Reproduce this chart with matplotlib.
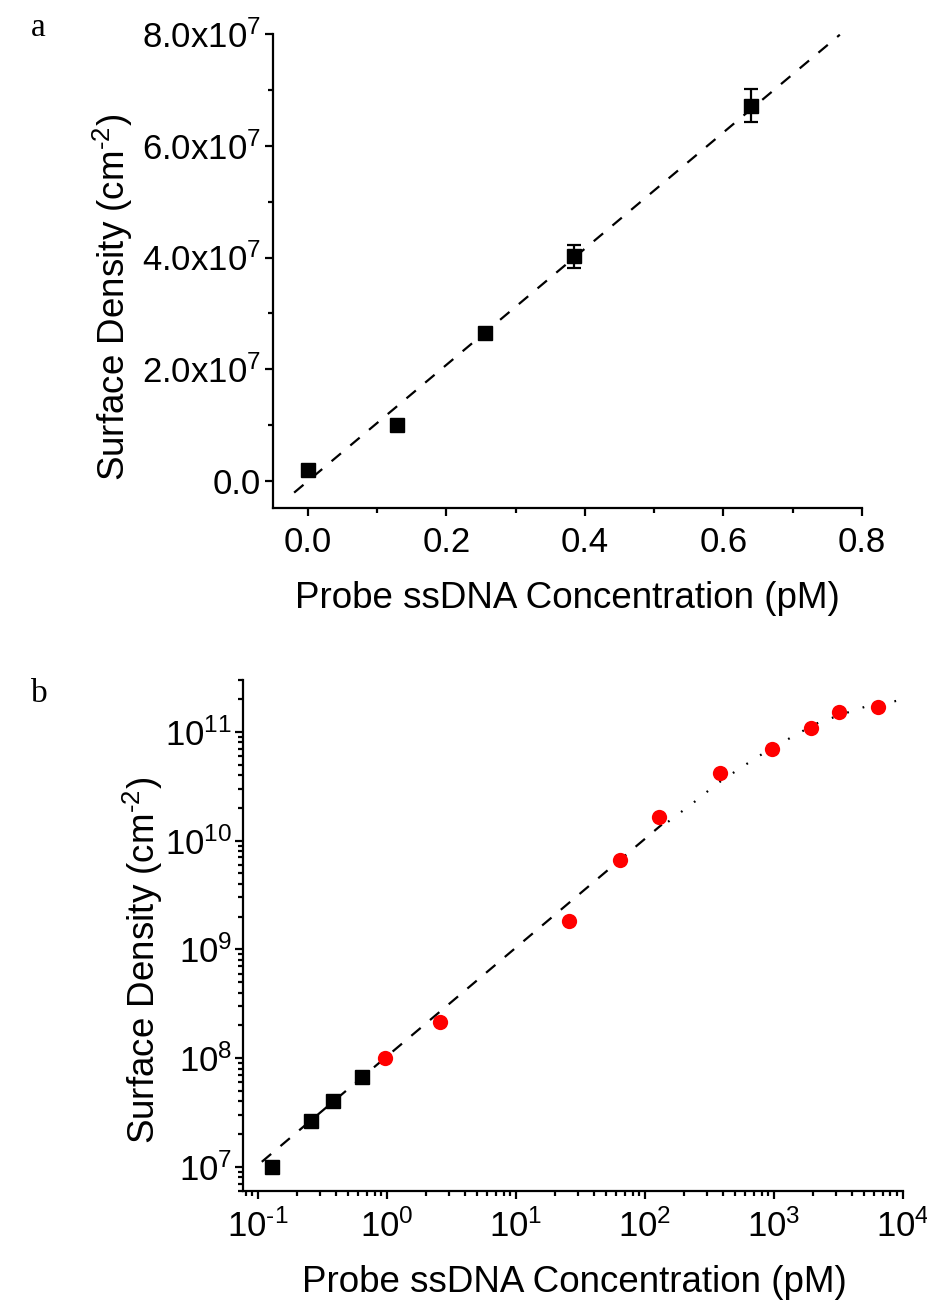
import matplotlib
matplotlib.use('Agg')
import matplotlib.pyplot as plt
import numpy as np
from matplotlib.ticker import FuncFormatter, MultipleLocator, LogLocator, NullFormatter

plt.rcParams['font.family'] = ['Liberation Sans', 'DejaVu Sans']
plt.rcParams['mathtext.fontset'] = 'custom'
plt.rcParams['mathtext.rm'] = 'Liberation Sans'
plt.rcParams['mathtext.it'] = 'Liberation Sans:italic'
plt.rcParams['mathtext.bf'] = 'Liberation Sans:bold'
plt.rcParams['axes.unicode_minus'] = False

# ---- panel a: linear range ----
conc_a = [0.0, 0.128, 0.256, 0.384, 0.64]          # pM
dens_a = [2.0e6, 1.0e7, 2.65e7, 4.02e7, 6.72e7]    # cm^-2
err_a = [0.0, 0.0, 0.0, 2.1e6, 2.9e6]

fit_a_x = [-0.02, 0.768]
fit_slope = 1.04e8                                  # cm^-2 per pM

# ---- panel b: full range (log-log) ----
conc_sq = [0.128, 0.256, 0.384, 0.64]
dens_sq = [1.0e7, 2.65e7, 4.02e7, 6.72e7]

conc_circ = [0.96, 2.56, 25.6, 64, 128, 384, 960, 1920, 3200, 6400]
dens_circ = [1.0e8, 2.15e8, 1.83e9, 6.65e9, 1.65e10, 4.2e10, 6.95e10,
             1.09e11, 1.53e11, 1.70e11]

fit_b_x = [0.107, 135]
sat_x = [151, 236, 361, 565, 883, 1380, 2118, 3251, 5070, 9817]
sat_y = [1.49e10, 2.22e10, 3.33e10, 4.76e10, 6.68e10, 8.99e10,
         1.19e11, 1.43e11, 1.70e11, 1.97e11]

HYPH = '\u2010'
TICK_FS = 25
LABEL_FS = 26.5

W, H = 928, 1302
fig = plt.figure(figsize=(W / 100, H / 100), dpi=100)


def px_axes(l, t, r, b):
    return fig.add_axes([l / W, 1 - b / H, (r - l) / W, (b - t) / H])


def style_axes(ax):
    for s in ['top', 'right']:
        ax.spines[s].set_visible(False)
    for s in ['left', 'bottom']:
        ax.spines[s].set_linewidth(1.6)
    ax.tick_params(which='major', direction='out', length=6, width=1.6,
                   labelsize=TICK_FS)
    ax.tick_params(which='minor', direction='out', length=3.5, width=1.6)


def pow10(v, pos):
    e = int(round(np.log10(v)))
    s = str(e) if e >= 0 else HYPH + str(-e)
    return r'$\mathregular{10^{%s}}$' % s


# ================= panel a =================
ax1 = px_axes(273, 34, 862, 508)
# only the two highest points carry visible error bars
with_err = [i for i, e in enumerate(err_a) if e > 0]
ax1.errorbar([conc_a[i] for i in with_err], [dens_a[i] for i in with_err],
             yerr=[err_a[i] for i in with_err], fmt='none', ecolor='black',
             elinewidth=1.6, capsize=5, capthick=1.6, zorder=3)
ax1.plot(conc_a, dens_a, 's', color='black', markersize=9.5, zorder=4)
ax1.plot(fit_a_x, [fit_slope * v for v in fit_a_x], color='black',
         lw=1.6, linestyle=(0, (5.5, 5.5)), zorder=2)

ax1.set_xlim(-0.0505, 0.8)
ax1.set_ylim(-4.83e6, 8.0e7)
ax1.xaxis.set_major_locator(MultipleLocator(0.2))
ax1.xaxis.set_minor_locator(MultipleLocator(0.1))
ax1.yaxis.set_major_locator(MultipleLocator(2e7))
ax1.yaxis.set_minor_locator(MultipleLocator(1e7))


def sci_fmt(v, pos):
    if abs(v) < 1:
        return '0.0'
    return r'$\mathregular{%.1fx10^{7}}$' % (v / 1e7)


ax1.yaxis.set_major_formatter(FuncFormatter(sci_fmt))
ax1.xaxis.set_major_formatter(FuncFormatter(lambda v, p: '%.1f' % v))
style_axes(ax1)
ax1.tick_params(axis='x', pad=7)
ax1.tick_params(axis='y', pad=3)

fig.text(567 / W, 1 - 598 / H, 'Probe ssDNA Concentration (pM)',
         fontsize=LABEL_FS, ha='center', va='center')
fig.text(113 / W, 1 - 297 / H,
         r'Surface Density (cm$\mathregular{^{%s2}}$)' % HYPH,
         fontsize=LABEL_FS, ha='center', va='center', rotation=90)
fig.text(38 / W, 1 - 28 / H, 'a', fontsize=24, ha='center', va='center',
         family='Liberation Serif')

# ================= panel b =================
ax2 = px_axes(243, 680, 903, 1191)
ax2.set_xscale('log')
ax2.set_yscale('log')
ax2.plot(fit_b_x, [fit_slope * v for v in fit_b_x], color='black',
         lw=1.6, linestyle=(0, (5.5, 5.5)), zorder=2)
ax2.plot(sat_x, sat_y, color='black', lw=1.6, linestyle=(0, (0.8, 6.5)),
         zorder=2)
ax2.plot(conc_sq, dens_sq, 's', color='black', markersize=9.5, zorder=3)
ax2.plot(conc_circ, dens_circ, 'o', color='#ff0000', markersize=11,
         markeredgewidth=0, zorder=3)

ax2.set_xlim(0.0765, 1e4)
ax2.set_ylim(6.0e6, 3.0e11)
ax2.xaxis.set_major_locator(LogLocator(base=10, numticks=20))
ax2.xaxis.set_minor_locator(LogLocator(base=10, subs=np.arange(2, 10), numticks=20))
ax2.yaxis.set_major_locator(LogLocator(base=10, numticks=20))
ax2.yaxis.set_minor_locator(LogLocator(base=10, subs=np.arange(2, 10), numticks=20))
ax2.xaxis.set_minor_formatter(NullFormatter())
ax2.yaxis.set_minor_formatter(NullFormatter())
ax2.xaxis.set_major_formatter(FuncFormatter(pow10))
ax2.yaxis.set_major_formatter(FuncFormatter(pow10))
style_axes(ax2)
ax2.tick_params(axis='x', pad=7)
ax2.tick_params(axis='y', pad=2)

fig.text(574 / W, 1 - 1282 / H, 'Probe ssDNA Concentration (pM)',
         fontsize=LABEL_FS, ha='center', va='center')
fig.text(143 / W, 1 - 960 / H,
         r'Surface Density (cm$\mathregular{^{%s2}}$)' % HYPH,
         fontsize=LABEL_FS, ha='center', va='center', rotation=90)
fig.text(39 / W, 1 - 694 / H, 'b', fontsize=24, ha='center', va='center',
         family='Liberation Serif')

fig.savefig('out.png', dpi=100)
